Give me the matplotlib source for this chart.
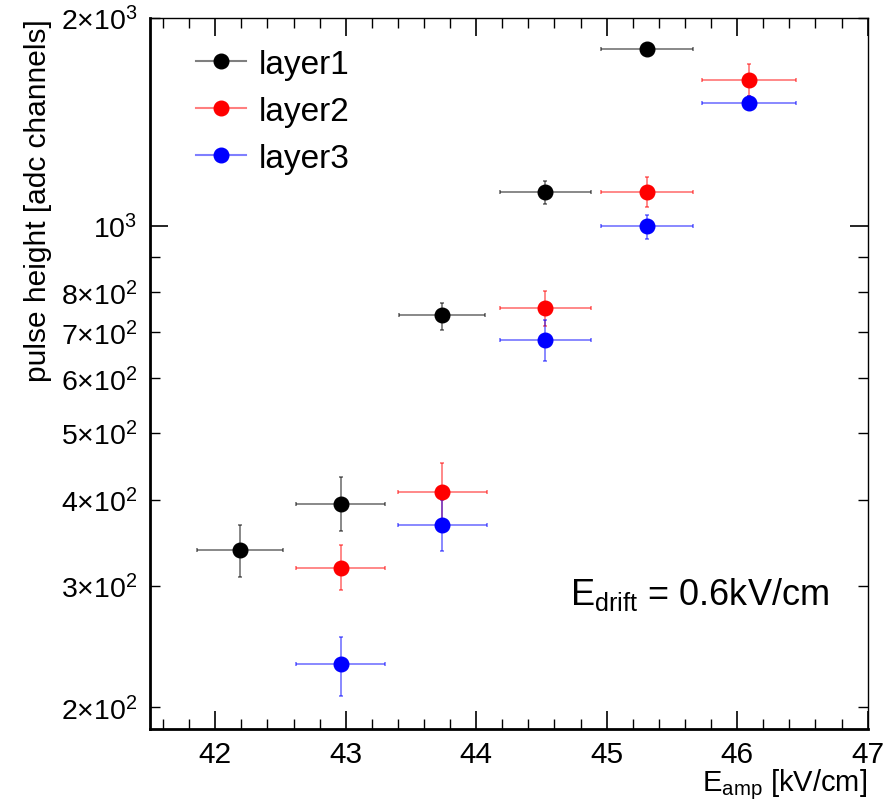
import matplotlib
matplotlib.use("Agg")
import matplotlib.pyplot as plt
from matplotlib.ticker import FixedLocator, FixedFormatter
from matplotlib.lines import Line2D
import numpy as np

plt.rcParams['font.family'] = ['Liberation Sans', 'DejaVu Sans']
plt.rcParams['mathtext.fontset'] = 'custom'
plt.rcParams['mathtext.rm'] = 'Liberation Sans'
plt.rcParams['mathtext.it'] = 'Liberation Sans:italic'
plt.rcParams['mathtext.bf'] = 'Liberation Sans:bold'

# ---- data ----
series_names = ["layer1", "layer2", "layer3"]
series_colors = ["black", "red", "blue"]

layer1_x = [42.19, 42.96, 43.74, 44.53, 45.31]
layer1_xerr = [0.33, 0.34, 0.33, 0.35, 0.355]
layer1_y = [338, 395, 741, 1118, 1805]
layer1_ylo = [309, 361, 705, 1075, 1775]
layer1_yhi = [368, 431, 773, 1159, 1835]

layer2_x = [42.96, 43.74, 44.53, 45.31, 46.09]
layer2_xerr = [0.34, 0.34, 0.35, 0.355, 0.36]
layer2_y = [319, 410, 759, 1118, 1628]
layer2_ylo = [296, 372, 714, 1063, 1539]
layer2_yhi = [344, 452, 804, 1177, 1717]

layer3_x = [42.96, 43.74, 44.53, 45.31, 46.09]
layer3_xerr = [0.34, 0.34, 0.35, 0.355, 0.36]
layer3_y = [231, 368, 682, 997, 1505]
layer3_ylo = [208, 337, 636, 957, 1470]
layer3_yhi = [253, 400, 730, 1035, 1540]

y_minor_ticks = [200, 300, 400, 500, 600, 700, 800, 900, 2000]
y_minor_labels = [r"$2{\times}10^{2}$", r"$3{\times}10^{2}$", r"$4{\times}10^{2}$",
                  r"$5{\times}10^{2}$", r"$6{\times}10^{2}$", r"$7{\times}10^{2}$",
                  r"$8{\times}10^{2}$", "", r"$2{\times}10^{3}$"]
y_major_ticks = [1000]
y_major_labels = [r"$10^{3}$"]
x_ticks = [42, 43, 44, 45, 46, 47]

fig = plt.figure(figsize=(8.87, 8.03), dpi=100)
ax = fig.add_axes([0.1691, 0.0909, 0.8091, 0.8854])

series = [
    (layer1_x, layer1_xerr, layer1_y, layer1_ylo, layer1_yhi),
    (layer2_x, layer2_xerr, layer2_y, layer2_ylo, layer2_yhi),
    (layer3_x, layer3_xerr, layer3_y, layer3_ylo, layer3_yhi),
]

handles = []
for (x, xe, y, ylo, yhi), name, c in zip(series, series_names, series_colors):
    y = np.array(y, float)
    yerr = np.vstack([y - np.array(ylo), np.array(yhi) - y])
    ax.errorbar(x, y, xerr=xe, yerr=yerr, fmt='o', ms=10.5, color=c,
                ecolor=matplotlib.colors.to_rgba(c, 0.5), elinewidth=1.3,
                capsize=1.5, capthick=1.3, zorder=3)
    handles.append(Line2D([], [], color=matplotlib.colors.to_rgba(c, 0.5), lw=1.5,
                          marker='o', ms=10.5, markerfacecolor=c, markeredgecolor=c,
                          label=name))

ax.set_yscale('log')
ax.set_xlim(41.5, 47)
ax.set_ylim(186, 2000)

ax.xaxis.set_major_locator(FixedLocator(x_ticks))
ax.xaxis.set_minor_locator(FixedLocator(np.arange(41.6, 47.0, 0.2)))
ax.yaxis.set_major_locator(FixedLocator(y_major_ticks))
ax.yaxis.set_major_formatter(FixedFormatter(y_major_labels))
ax.yaxis.set_minor_locator(FixedLocator(y_minor_ticks))
ax.yaxis.set_minor_formatter(FixedFormatter(y_minor_labels))

ax.tick_params(which='both', direction='in', top=True, right=True)
ax.tick_params(which='major', length=13, width=1.2)
ax.tick_params(which='minor', length=7, width=1.0)
ax.tick_params(axis='x', which='major', labelsize=21.5, pad=8)
ax.tick_params(axis='y', which='both', labelsize=20.5, pad=9)

for s in ['left', 'bottom']:
    ax.spines[s].set_linewidth(2.0)
for s in ['top', 'right']:
    ax.spines[s].set_linewidth(1.0)

ax.set_ylabel("pulse height [adc channels]", fontsize=21.5, loc='top', labelpad=6)
ax.set_xlabel(r"E$_{\mathrm{amp}}$ [kV/cm]", fontsize=21, loc='right', labelpad=-1)

ax.text(0.765, 0.19, r"E$_{\mathrm{drift}}$ = 0.6kV/cm", transform=ax.transAxes,
        fontsize=26, ha='center', va='center')

ax.legend(handles=handles, loc='upper left', bbox_to_anchor=(0.045, 0.975),
          frameon=False, fontsize=24, handlelength=1.5, handletextpad=0.4,
          labelspacing=0.48, borderaxespad=0)

fig.savefig("out.png", dpi=100)
